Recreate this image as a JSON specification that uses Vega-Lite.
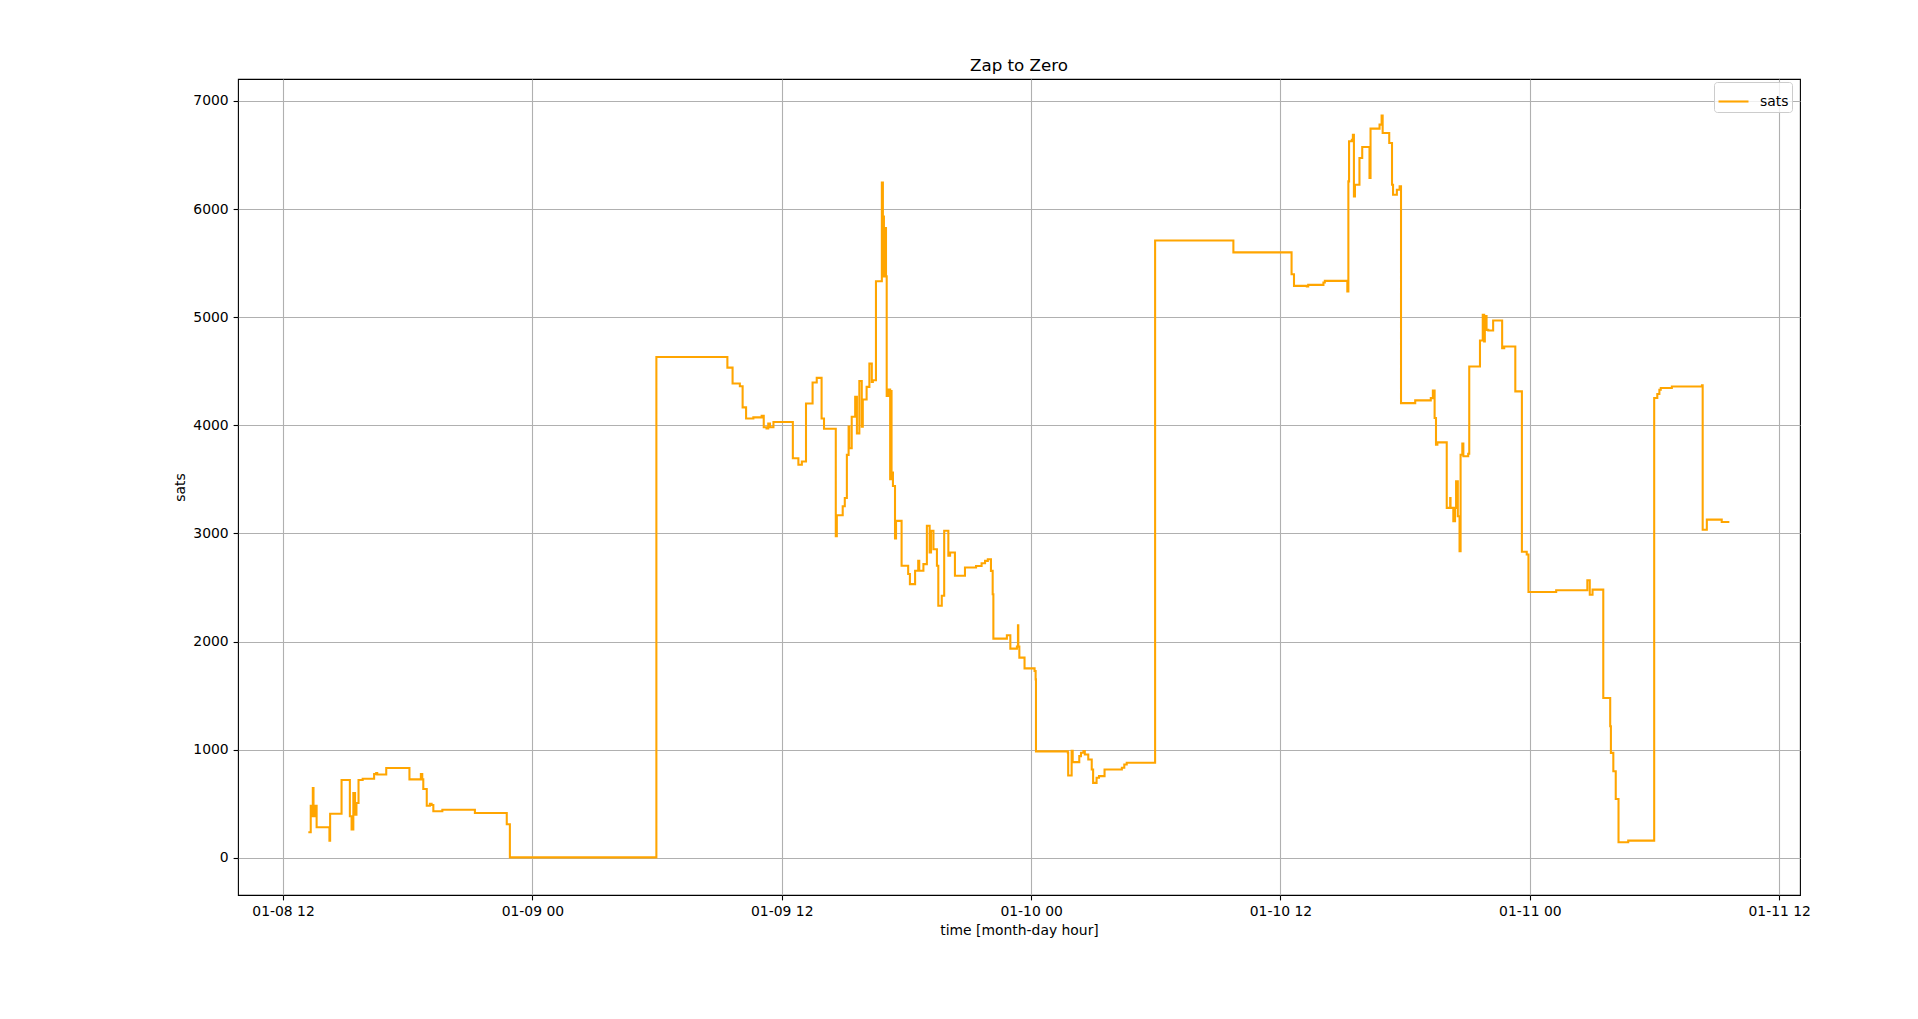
{
  "$schema": "https://vega.github.io/schema/vega-lite/v6.json",
  "width": 1562,
  "height": 816,
  "autosize": {"type": "none"},
  "padding": {"left": 238, "top": 79, "right": 118, "bottom": 124},
  "background": "white",
  "title": {"text": "Zap to Zero", "fontSize": 16.7, "fontWeight": "normal", "color": "black", "offset": 4},
  "config": {
    "font": "DejaVu Sans",
    "view": {"stroke": "black", "strokeWidth": 1.1},
    "axis": {
      "domain": false,
      "grid": true,
      "gridColor": "#b0b0b0",
      "gridWidth": 1.1,
      "tickColor": "black",
      "tickSize": 4.9,
      "tickWidth": 1.1,
      "labelPadding": 4.9,
      "labelFontSize": 13.9,
      "labelColor": "black",
      "labelFlush": false,
      "labelOverlap": false,
      "titleFontSize": 13.9,
      "titleFontWeight": "normal",
      "titleColor": "black",
      "titlePadding": 5
    }
  },
  "data": {
    "values": [
      {"time": "2024-01-08T13:13:00", "sats": 237},
      {"time": "2024-01-08T13:20:00", "sats": 483},
      {"time": "2024-01-08T13:23:00", "sats": 385},
      {"time": "2024-01-08T13:26:00", "sats": 646},
      {"time": "2024-01-08T13:28:00", "sats": 400},
      {"time": "2024-01-08T13:29:00", "sats": 483},
      {"time": "2024-01-08T13:32:00", "sats": 385},
      {"time": "2024-01-08T13:35:00", "sats": 483},
      {"time": "2024-01-08T13:37:00", "sats": 283},
      {"time": "2024-01-08T14:14:00", "sats": 160},
      {"time": "2024-01-08T14:16:00", "sats": 409},
      {"time": "2024-01-08T14:49:00", "sats": 720},
      {"time": "2024-01-08T15:13:00", "sats": 385},
      {"time": "2024-01-08T15:18:00", "sats": 262},
      {"time": "2024-01-08T15:23:00", "sats": 600},
      {"time": "2024-01-08T15:28:00", "sats": 400},
      {"time": "2024-01-08T15:32:00", "sats": 508},
      {"time": "2024-01-08T15:38:00", "sats": 720},
      {"time": "2024-01-08T15:50:00", "sats": 732},
      {"time": "2024-01-08T16:23:00", "sats": 775},
      {"time": "2024-01-08T16:29:00", "sats": 785},
      {"time": "2024-01-08T16:32:00", "sats": 772},
      {"time": "2024-01-08T16:58:00", "sats": 831},
      {"time": "2024-01-08T18:05:00", "sats": 726},
      {"time": "2024-01-08T18:38:00", "sats": 775},
      {"time": "2024-01-08T18:42:00", "sats": 726},
      {"time": "2024-01-08T18:45:00", "sats": 637},
      {"time": "2024-01-08T18:55:00", "sats": 483},
      {"time": "2024-01-08T19:04:00", "sats": 501},
      {"time": "2024-01-08T19:09:00", "sats": 490},
      {"time": "2024-01-08T19:14:00", "sats": 431},
      {"time": "2024-01-08T19:40:00", "sats": 446},
      {"time": "2024-01-08T21:14:00", "sats": 415},
      {"time": "2024-01-08T22:46:00", "sats": 311},
      {"time": "2024-01-08T22:55:00", "sats": 5},
      {"time": "2024-01-09T05:58:00", "sats": 4632},
      {"time": "2024-01-09T09:23:00", "sats": 4534},
      {"time": "2024-01-09T09:38:00", "sats": 4387},
      {"time": "2024-01-09T09:59:00", "sats": 4362},
      {"time": "2024-01-09T10:07:00", "sats": 4166},
      {"time": "2024-01-09T10:17:00", "sats": 4064},
      {"time": "2024-01-09T10:38:00", "sats": 4074},
      {"time": "2024-01-09T11:02:00", "sats": 4089},
      {"time": "2024-01-09T11:08:00", "sats": 3982},
      {"time": "2024-01-09T11:16:00", "sats": 3972},
      {"time": "2024-01-09T11:21:00", "sats": 4018},
      {"time": "2024-01-09T11:26:00", "sats": 3982},
      {"time": "2024-01-09T11:36:00", "sats": 4031},
      {"time": "2024-01-09T12:32:00", "sats": 3696},
      {"time": "2024-01-09T12:48:00", "sats": 3635},
      {"time": "2024-01-09T12:58:00", "sats": 3666},
      {"time": "2024-01-09T13:10:00", "sats": 4202},
      {"time": "2024-01-09T13:29:00", "sats": 4396},
      {"time": "2024-01-09T13:41:00", "sats": 4439},
      {"time": "2024-01-09T13:55:00", "sats": 4064},
      {"time": "2024-01-09T14:02:00", "sats": 3969},
      {"time": "2024-01-09T14:36:00", "sats": 2975},
      {"time": "2024-01-09T14:39:00", "sats": 3169},
      {"time": "2024-01-09T14:56:00", "sats": 3252},
      {"time": "2024-01-09T15:02:00", "sats": 3328},
      {"time": "2024-01-09T15:08:00", "sats": 3727},
      {"time": "2024-01-09T15:13:00", "sats": 3988},
      {"time": "2024-01-09T15:15:00", "sats": 3788},
      {"time": "2024-01-09T15:22:00", "sats": 4080},
      {"time": "2024-01-09T15:32:00", "sats": 4264},
      {"time": "2024-01-09T15:37:00", "sats": 3926},
      {"time": "2024-01-09T15:44:00", "sats": 4411},
      {"time": "2024-01-09T15:51:00", "sats": 3988},
      {"time": "2024-01-09T15:54:00", "sats": 4239},
      {"time": "2024-01-09T16:05:00", "sats": 4356},
      {"time": "2024-01-09T16:13:00", "sats": 4571},
      {"time": "2024-01-09T16:20:00", "sats": 4402},
      {"time": "2024-01-09T16:23:00", "sats": 4417},
      {"time": "2024-01-09T16:32:00", "sats": 5332},
      {"time": "2024-01-09T16:49:00", "sats": 6246},
      {"time": "2024-01-09T16:52:00", "sats": 5717},
      {"time": "2024-01-09T16:53:00", "sats": 5932},
      {"time": "2024-01-09T16:55:00", "sats": 5378},
      {"time": "2024-01-09T16:58:00", "sats": 5825},
      {"time": "2024-01-09T17:01:00", "sats": 5378},
      {"time": "2024-01-09T17:03:00", "sats": 4271},
      {"time": "2024-01-09T17:08:00", "sats": 4332},
      {"time": "2024-01-09T17:13:00", "sats": 3502},
      {"time": "2024-01-09T17:16:00", "sats": 4317},
      {"time": "2024-01-09T17:17:00", "sats": 3563},
      {"time": "2024-01-09T17:21:00", "sats": 3440},
      {"time": "2024-01-09T17:27:00", "sats": 2954},
      {"time": "2024-01-09T17:30:00", "sats": 3117},
      {"time": "2024-01-09T17:46:00", "sats": 2702},
      {"time": "2024-01-09T18:05:00", "sats": 2625},
      {"time": "2024-01-09T18:10:00", "sats": 2532},
      {"time": "2024-01-09T18:25:00", "sats": 2655},
      {"time": "2024-01-09T18:34:00", "sats": 2748},
      {"time": "2024-01-09T18:37:00", "sats": 2655},
      {"time": "2024-01-09T18:49:00", "sats": 2717},
      {"time": "2024-01-09T18:59:00", "sats": 3071},
      {"time": "2024-01-09T19:07:00", "sats": 2825},
      {"time": "2024-01-09T19:11:00", "sats": 3025},
      {"time": "2024-01-09T19:18:00", "sats": 2855},
      {"time": "2024-01-09T19:28:00", "sats": 2702},
      {"time": "2024-01-09T19:32:00", "sats": 2332},
      {"time": "2024-01-09T19:42:00", "sats": 2425},
      {"time": "2024-01-09T19:49:00", "sats": 3025},
      {"time": "2024-01-09T20:01:00", "sats": 2794},
      {"time": "2024-01-09T20:06:00", "sats": 2825},
      {"time": "2024-01-09T20:20:00", "sats": 2609},
      {"time": "2024-01-09T20:49:00", "sats": 2686},
      {"time": "2024-01-09T21:21:00", "sats": 2700},
      {"time": "2024-01-09T21:37:00", "sats": 2725},
      {"time": "2024-01-09T21:47:00", "sats": 2747},
      {"time": "2024-01-09T21:55:00", "sats": 2762},
      {"time": "2024-01-09T22:04:00", "sats": 2654},
      {"time": "2024-01-09T22:09:00", "sats": 2438},
      {"time": "2024-01-09T22:11:00", "sats": 2028},
      {"time": "2024-01-09T22:50:00", "sats": 2059},
      {"time": "2024-01-09T23:00:00", "sats": 1935},
      {"time": "2024-01-09T23:19:00", "sats": 1954},
      {"time": "2024-01-09T23:22:00", "sats": 2151},
      {"time": "2024-01-09T23:23:00", "sats": 1954},
      {"time": "2024-01-09T23:26:00", "sats": 1852},
      {"time": "2024-01-09T23:41:00", "sats": 1753},
      {"time": "2024-01-10T00:10:00", "sats": 1728},
      {"time": "2024-01-10T00:13:00", "sats": 1651},
      {"time": "2024-01-10T00:14:00", "sats": 985},
      {"time": "2024-01-10T01:46:00", "sats": 972},
      {"time": "2024-01-10T01:47:00", "sats": 762},
      {"time": "2024-01-10T01:57:00", "sats": 991},
      {"time": "2024-01-10T02:00:00", "sats": 886},
      {"time": "2024-01-10T02:19:00", "sats": 941},
      {"time": "2024-01-10T02:24:00", "sats": 972},
      {"time": "2024-01-10T02:31:00", "sats": 988},
      {"time": "2024-01-10T02:35:00", "sats": 957},
      {"time": "2024-01-10T02:45:00", "sats": 910},
      {"time": "2024-01-10T02:55:00", "sats": 818},
      {"time": "2024-01-10T02:59:00", "sats": 694},
      {"time": "2024-01-10T03:09:00", "sats": 741},
      {"time": "2024-01-10T03:16:00", "sats": 756},
      {"time": "2024-01-10T03:32:00", "sats": 818},
      {"time": "2024-01-10T04:22:00", "sats": 833},
      {"time": "2024-01-10T04:29:00", "sats": 864},
      {"time": "2024-01-10T04:36:00", "sats": 880},
      {"time": "2024-01-10T05:58:00", "sats": 5710},
      {"time": "2024-01-10T09:44:00", "sats": 5600},
      {"time": "2024-01-10T12:32:00", "sats": 5398},
      {"time": "2024-01-10T12:39:00", "sats": 5290},
      {"time": "2024-01-10T13:16:00", "sats": 5284},
      {"time": "2024-01-10T13:20:00", "sats": 5299},
      {"time": "2024-01-10T14:04:00", "sats": 5321},
      {"time": "2024-01-10T14:08:00", "sats": 5336},
      {"time": "2024-01-10T15:13:00", "sats": 5238},
      {"time": "2024-01-10T15:16:00", "sats": 6256},
      {"time": "2024-01-10T15:18:00", "sats": 6627},
      {"time": "2024-01-10T15:26:00", "sats": 6642},
      {"time": "2024-01-10T15:29:00", "sats": 6688},
      {"time": "2024-01-10T15:32:00", "sats": 6117},
      {"time": "2024-01-10T15:35:00", "sats": 6225},
      {"time": "2024-01-10T15:48:00", "sats": 6472},
      {"time": "2024-01-10T15:56:00", "sats": 6574},
      {"time": "2024-01-10T16:17:00", "sats": 6287},
      {"time": "2024-01-10T16:20:00", "sats": 6744},
      {"time": "2024-01-10T16:46:00", "sats": 6781},
      {"time": "2024-01-10T16:52:00", "sats": 6864},
      {"time": "2024-01-10T16:55:00", "sats": 6704},
      {"time": "2024-01-10T17:14:00", "sats": 6611},
      {"time": "2024-01-10T17:22:00", "sats": 6225},
      {"time": "2024-01-10T17:25:00", "sats": 6133},
      {"time": "2024-01-10T17:36:00", "sats": 6179},
      {"time": "2024-01-10T17:44:00", "sats": 6210},
      {"time": "2024-01-10T17:48:00", "sats": 4206},
      {"time": "2024-01-10T18:29:00", "sats": 4231},
      {"time": "2024-01-10T19:14:00", "sats": 4252},
      {"time": "2024-01-10T19:20:00", "sats": 4323},
      {"time": "2024-01-10T19:25:00", "sats": 4068},
      {"time": "2024-01-10T19:29:00", "sats": 3822},
      {"time": "2024-01-10T19:33:00", "sats": 3843},
      {"time": "2024-01-10T20:00:00", "sats": 3237},
      {"time": "2024-01-10T20:10:00", "sats": 3329},
      {"time": "2024-01-10T20:11:00", "sats": 3237},
      {"time": "2024-01-10T20:19:00", "sats": 3114},
      {"time": "2024-01-10T20:24:00", "sats": 3237},
      {"time": "2024-01-10T20:27:00", "sats": 3483},
      {"time": "2024-01-10T20:32:00", "sats": 3160},
      {"time": "2024-01-10T20:37:00", "sats": 2837},
      {"time": "2024-01-10T20:40:00", "sats": 3729},
      {"time": "2024-01-10T20:45:00", "sats": 3831},
      {"time": "2024-01-10T20:48:00", "sats": 3714},
      {"time": "2024-01-10T21:02:00", "sats": 3738},
      {"time": "2024-01-10T21:05:00", "sats": 4545},
      {"time": "2024-01-10T21:36:00", "sats": 4785},
      {"time": "2024-01-10T21:44:00", "sats": 5022},
      {"time": "2024-01-10T21:48:00", "sats": 4775},
      {"time": "2024-01-10T21:50:00", "sats": 5011},
      {"time": "2024-01-10T21:55:00", "sats": 4883},
      {"time": "2024-01-10T22:00:00", "sats": 4877},
      {"time": "2024-01-10T22:14:00", "sats": 4969},
      {"time": "2024-01-10T22:40:00", "sats": 4714},
      {"time": "2024-01-10T22:46:00", "sats": 4729},
      {"time": "2024-01-10T23:18:00", "sats": 4314},
      {"time": "2024-01-10T23:37:00", "sats": 2831},
      {"time": "2024-01-10T23:51:00", "sats": 2806},
      {"time": "2024-01-10T23:56:00", "sats": 2459},
      {"time": "2024-01-11T01:16:00", "sats": 2475},
      {"time": "2024-01-11T02:46:00", "sats": 2567},
      {"time": "2024-01-11T02:53:00", "sats": 2434},
      {"time": "2024-01-11T03:01:00", "sats": 2481},
      {"time": "2024-01-11T03:32:00", "sats": 1479},
      {"time": "2024-01-11T03:52:00", "sats": 1217},
      {"time": "2024-01-11T03:54:00", "sats": 971},
      {"time": "2024-01-11T04:01:00", "sats": 801},
      {"time": "2024-01-11T04:08:00", "sats": 545},
      {"time": "2024-01-11T04:16:00", "sats": 145},
      {"time": "2024-01-11T04:44:00", "sats": 160},
      {"time": "2024-01-11T05:59:00", "sats": 4253},
      {"time": "2024-01-11T06:08:00", "sats": 4290},
      {"time": "2024-01-11T06:14:00", "sats": 4330},
      {"time": "2024-01-11T06:18:00", "sats": 4345},
      {"time": "2024-01-11T06:50:00", "sats": 4360},
      {"time": "2024-01-11T08:17:00", "sats": 4370},
      {"time": "2024-01-11T08:19:00", "sats": 3035},
      {"time": "2024-01-11T08:31:00", "sats": 3128},
      {"time": "2024-01-11T09:14:00", "sats": 3106},
      {"time": "2024-01-11T09:36:00", "sats": 3106}
    ]
  },
  "mark": {"type": "line", "interpolate": "step-after", "strokeWidth": 2.08},
  "encoding": {
    "x": {
      "field": "time",
      "type": "temporal",
      "title": "time [month-day hour]",
      "scale": {
        "domain": [
          {"year": 2024, "month": 1, "date": 8, "hours": 9, "minutes": 50},
          {"year": 2024, "month": 1, "date": 11, "hours": 13, "minutes": 0}
        ],
        "nice": false
      },
      "axis": {
        "format": "%m-%d %H",
        "values": [
          {"year": 2024, "month": 1, "date": 8, "hours": 12},
          {"year": 2024, "month": 1, "date": 9, "hours": 0},
          {"year": 2024, "month": 1, "date": 9, "hours": 12},
          {"year": 2024, "month": 1, "date": 10, "hours": 0},
          {"year": 2024, "month": 1, "date": 10, "hours": 12},
          {"year": 2024, "month": 1, "date": 11, "hours": 0},
          {"year": 2024, "month": 1, "date": 11, "hours": 12}
        ]
      }
    },
    "y": {
      "field": "sats",
      "type": "quantitative",
      "title": "sats",
      "scale": {"domain": [-343, 7203], "nice": false, "zero": false},
      "axis": {"values": [0, 1000, 2000, 3000, 4000, 5000, 6000, 7000], "format": "d"}
    },
    "color": {
      "datum": "sats",
      "scale": {"range": ["#ffa500"]},
      "legend": {
        "title": null,
        "orient": "none",
        "legendX": 1476,
        "legendY": 3,
        "symbolType": "stroke",
        "symbolStrokeWidth": 2.08,
        "symbolSize": 900,
        "labelFontSize": 13.9,
        "labelColor": "black",
        "labelOffset": 10,
        "padding": 3,
        "fillColor": "rgba(255,255,255,0.8)",
        "strokeColor": "#cccccc",
        "cornerRadius": 3
      }
    }
  }
}
